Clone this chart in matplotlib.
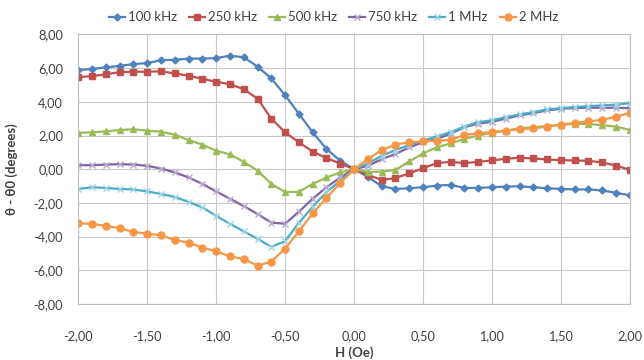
import numpy as np
import matplotlib
matplotlib.use('Agg')
import matplotlib.pyplot as plt

plt.rcParams['font.family'] = ['Lato', 'DejaVu Sans']

# field values, -2.0 .. 2.0 step 0.1
h_oe = [round(-2.0 + 0.1 * i, 1) for i in range(41)]

f100k = [5.89, 5.95, 6.05, 6.14, 6.24, 6.30, 6.47, 6.50, 6.57, 6.57, 6.60,
         6.74, 6.65, 6.09, 5.39, 4.39, 3.29, 2.19, 1.20, 0.50, 0.00,
         -0.45, -1.01, -1.17, -1.13, -1.07, -0.97, -0.93, -1.11, -1.11, -1.07,
         -1.03, -1.01, -1.07, -1.13, -1.17, -1.20, -1.20, -1.26, -1.40, -1.55]
f250k = [5.47, 5.53, 5.63, 5.77, 5.79, 5.79, 5.81, 5.69, 5.55, 5.37, 5.19,
         5.05, 4.75, 4.19, 3.00, 2.19, 1.60, 1.05, 0.66, 0.34, 0.00,
         -0.33, -0.64, -0.52, -0.25, 0.06, 0.36, 0.44, 0.36, 0.44, 0.52,
         0.62, 0.68, 0.64, 0.58, 0.54, 0.52, 0.50, 0.40, 0.22, -0.04]
f500k = [2.16, 2.19, 2.25, 2.33, 2.37, 2.29, 2.23, 2.05, 1.73, 1.46, 1.10,
         0.88, 0.44, -0.08, -0.87, -1.36, -1.34, -0.87, -0.49, -0.19, 0.00,
         -0.16, -0.14, -0.04, 0.46, 0.94, 1.30, 1.53, 1.80, 2.00, 2.17,
         2.29, 2.43, 2.49, 2.57, 2.63, 2.69, 2.69, 2.61, 2.53, 2.33]
f750k = [0.24, 0.24, 0.28, 0.30, 0.28, 0.20, 0.04, -0.19, -0.49, -0.87, -1.32,
         -1.75, -2.19, -2.66, -3.17, -3.24, -2.52, -1.75, -1.07, -0.49, 0.00,
         0.20, 0.60, 0.90, 1.30, 1.60, 1.80, 2.10, 2.50, 2.70, 2.82,
         3.00, 3.20, 3.33, 3.49, 3.59, 3.63, 3.65, 3.65, 3.65, 3.62]
f1m = [-1.17, -1.07, -1.11, -1.17, -1.20, -1.32, -1.46, -1.65, -1.94, -2.27, -2.77,
       -3.24, -3.69, -4.13, -4.61, -4.27, -3.17, -2.23, -1.36, -0.68, 0.00,
       0.34, 0.80, 1.14, 1.44, 1.70, 1.95, 2.20, 2.53, 2.80, 2.90,
       3.09, 3.25, 3.39, 3.55, 3.63, 3.69, 3.75, 3.79, 3.83, 3.93]
f2m = [-3.20, -3.25, -3.36, -3.50, -3.72, -3.82, -3.93, -4.20, -4.36, -4.65, -4.87,
       -5.18, -5.33, -5.72, -5.49, -4.71, -3.69, -2.62, -1.69, -0.82, 0.00,
       0.60, 1.14, 1.46, 1.60, 1.65, 1.70, 1.74, 2.04, 2.13, 2.22,
       2.29, 2.37, 2.43, 2.53, 2.65, 2.75, 2.85, 2.93, 3.13, 3.33]

labels = ['100 kHz', '250 kHz', '500 kHz', '750 kHz', '1 MHz', '2 MHz']
colors = ['#4F81BD', '#C0504D', '#9BBB59', '#8064A2', '#4BACC6', '#F79646']
marker_colors = ['#4F81BD', '#C0504D', '#9BBB59', '#B9A8D0', '#9DD3E3', '#F79646']
markers = ['D', 's', '^', 'x', 'x', 'o']
msizes = [3.5, 5, 5, 4, 4, 5]
series = [f100k, f250k, f500k, f750k, f1m, f2m]

xticks = [-2.0, -1.5, -1.0, -0.5, 0.0, 0.5, 1.0, 1.5, 2.0]
xtick_labels = ['-2,00', '-1,50', '-1,00', '-0,50', '0,00', '0,50', '1,00', '1,50', '2,00']
yticks = [-8, -6, -4, -2, 0, 2, 4, 6, 8]
ytick_labels = ['-8,00', '-6,00', '-4,00', '-2,00', '0,00', '2,00', '4,00', '6,00', '8,00']

fig = plt.figure(figsize=(6.44, 3.6), dpi=100)
ax = fig.add_axes([0.1216, 0.1556, 0.8564, 0.7486])

for y, lab, c, mc, m, ms in zip(series, labels, colors, marker_colors, markers, msizes):
    ax.plot(h_oe, y, color=c, lw=1.6, marker=m, ms=ms, mfc=mc, mec=mc,
            mew=1.0, label=lab)

ax.set_xlim(-2, 2)
ax.set_ylim(-8, 8)
ax.set_xticks(xticks)
ax.set_xticklabels(xtick_labels)
ax.set_yticks(yticks)
ax.set_yticklabels(ytick_labels)
ax.tick_params(length=0, labelsize=9.2, colors='#404040')
ax.tick_params(axis='y', pad=11)
ax.tick_params(axis='x', pad=19)
ax.grid(True, color='#C8C8C8', lw=0.8)
ax.set_axisbelow(True)
for s in ax.spines.values():
    s.set_color('#BFBFBF')
    s.set_linewidth(0.8)

ax.set_xlabel('H (Oe)', fontsize=9.5, fontweight='bold', color='#404040', labelpad=3)
ax.set_ylabel('θ - θ0 (degrees)', fontsize=9.5, fontweight='bold', color='#404040', labelpad=11)

fig.legend(loc='center', bbox_to_anchor=(0.518, 0.952), ncol=6, frameon=False,
           fontsize=9.5, handlelength=1.2, handletextpad=0.25, columnspacing=0.9,
           labelcolor='#404040', borderaxespad=0)

fig.savefig('out.png', dpi=100)
